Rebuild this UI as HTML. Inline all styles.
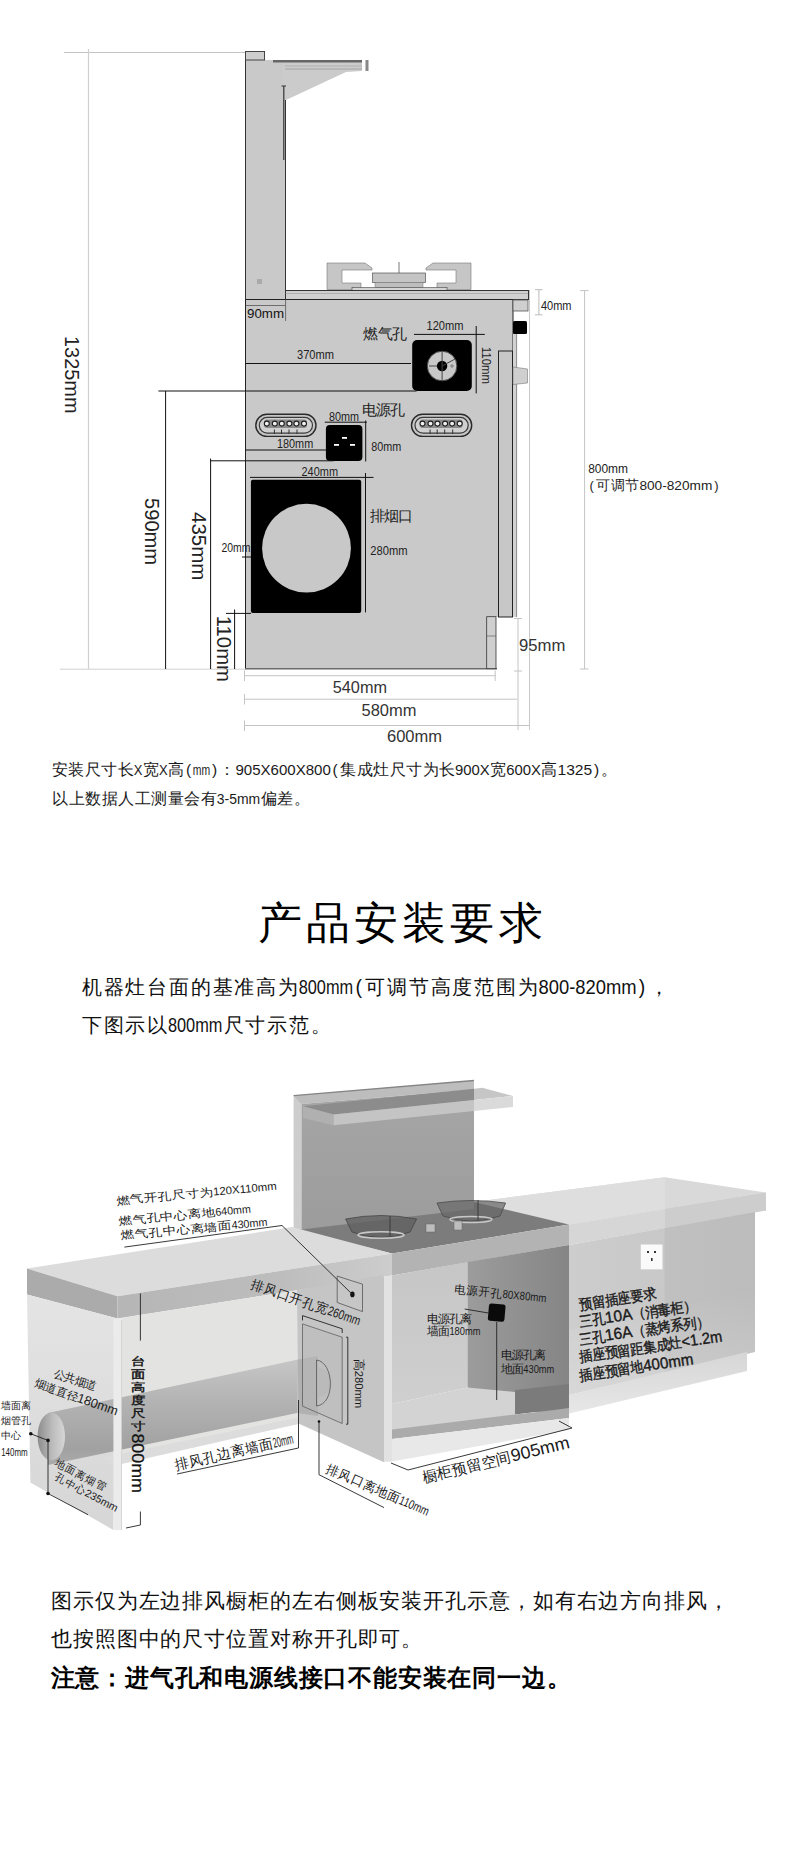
<!DOCTYPE html>
<html><head><meta charset="utf-8">
<style>
html,body{margin:0;padding:0;background:#fff;}
body{width:790px;height:1853px;position:relative;overflow:hidden;font-family:"Liberation Sans",sans-serif;}
svg{position:absolute;left:0;top:0;}
</style></head>
<body>
<svg id="top" width="790" height="760" viewBox="0 0 790 760" font-family="Liberation Sans, sans-serif">
  <!-- 1325 dimension -->
  <line x1="64" y1="52.5" x2="246" y2="52.5" stroke="#c4c4c4" stroke-width="1"/>
  <line x1="88.5" y1="49" x2="88.5" y2="669" stroke="#cfcfcf" stroke-width="1.2"/>
  <line x1="60" y1="669.2" x2="246" y2="669.2" stroke="#d0d0d0" stroke-width="1"/>
  <!-- column -->
  <rect x="245.5" y="60" width="39.5" height="240" fill="#c9c9c9"/>
  <line x1="245.5" y1="51" x2="245.5" y2="300" stroke="#333" stroke-width="1"/>
  <rect x="245.5" y="51.5" width="19" height="8.5" fill="#cdcdcd" stroke="#444" stroke-width="1"/>
  <line x1="285.5" y1="86" x2="285.5" y2="300" stroke="#333" stroke-width="1"/>
  <!-- shelf -->
  <polygon points="283,61 362,61 362,71 346,72 286,100 283,100" fill="#cbcbcb"/>
  <rect x="273" y="60" width="89" height="2.5" fill="#666"/>
  <line x1="285" y1="66" x2="362" y2="66" stroke="#aaa" stroke-width="0.8"/>
  <line x1="285" y1="69" x2="362" y2="69" stroke="#999" stroke-width="0.8"/>
  <rect x="365.5" y="60" width="3" height="11" fill="#888"/>
  <line x1="283.8" y1="86" x2="283.8" y2="160" stroke="#333" stroke-width="1.2"/>
  <line x1="281.5" y1="86" x2="286" y2="86" stroke="#333" stroke-width="1"/>
  <rect x="257" y="279" width="5" height="5" fill="#aaa"/>
  <!-- burner & supports -->
  <path d="M327,263 L365,263 L372,268 L372,270 L342,270 L342,283 L361,283 L361,289.5 L327,289.5 Z" fill="#c6c6c6" stroke="#777" stroke-width="0.6"/>
  <path d="M471,263 L433,263 L426,268 L426,270 L456,270 L456,283 L437,283 L437,289.5 L471,289.5 Z" fill="#c6c6c6" stroke="#777" stroke-width="0.6"/>
  <rect x="372.5" y="273" width="53" height="9.5" fill="#c4c4c4" stroke="#555" stroke-width="0.7"/>
  <rect x="375" y="282.5" width="48" height="5" fill="#bdbdbd" stroke="#777" stroke-width="0.5"/>
  <line x1="399" y1="262" x2="399" y2="273" stroke="#555" stroke-width="0.8"/>
  <rect x="352" y="287.5" width="95" height="3" fill="#d4d4d4" stroke="#444" stroke-width="0.6"/>
  <!-- countertop -->
  <rect x="285.5" y="290.5" width="243" height="9" fill="#cfcfcf" stroke="#333" stroke-width="1"/>
  <line x1="285.5" y1="293.5" x2="528" y2="293.5" stroke="#999" stroke-width="0.6"/>
  <!-- body -->
  <polygon points="245.5,299.5 513,299.5 513,617 496,617 496,669 245.5,669" fill="#c9c9c9"/>
  <polyline points="245.5,669 245.5,299.5 513,299.5 513,617" fill="none" stroke="#222" stroke-width="1"/>
  <line x1="245" y1="668.8" x2="497" y2="668.8" stroke="#6a6a6a" stroke-width="1.6"/>
  <line x1="245.5" y1="305.5" x2="285.5" y2="305.5" stroke="#555" stroke-width="0.8"/>
  <line x1="285.6" y1="299.5" x2="285.6" y2="321" stroke="#555" stroke-width="0.8"/>
  <text x="247" y="317.6" font-size="13" fill="#111" textLength="37" lengthAdjust="spacingAndGlyphs">90mm</text>
  <!-- right side fixtures -->
  <rect x="513" y="300" width="15" height="11" fill="#cfcfcf" stroke="#555" stroke-width="0.8"/>
  <rect x="513" y="321" width="14" height="13" rx="1.5" fill="#000"/>
  <rect x="498.5" y="351" width="14" height="266" fill="#c7c7c7" stroke="#222" stroke-width="1"/>
  <rect x="513" y="334" width="3.6" height="283" fill="#d2d2d2"/>
  <line x1="516.6" y1="334" x2="516.6" y2="617" stroke="#666" stroke-width="0.7"/>
  <polygon points="513,367 527.5,369 527.5,383 513,384.5" fill="#cfcfcf" stroke="#777" stroke-width="0.6"/>
  <line x1="529.5" y1="290" x2="529.5" y2="730" stroke="#c8c8c8" stroke-width="1"/>
  <rect x="486.7" y="616.7" width="9.3" height="52" fill="#cfcfcf" stroke="#333" stroke-width="0.8"/>
  <line x1="487" y1="636" x2="496" y2="636" stroke="#555" stroke-width="0.6"/>
  <!-- gas hole -->
  <rect x="412.2" y="340.1" width="59.6" height="50.9" rx="5" fill="#000"/>
  <circle cx="442.1" cy="366" r="14.8" fill="#c8c8c8" stroke="#444" stroke-width="1"/>
  <circle cx="442.1" cy="366" r="5.2" fill="#000"/>
  <line x1="442.1" y1="351.5" x2="442.1" y2="380.5" stroke="#444" stroke-width="1"/>
  <line x1="442.1" y1="366" x2="455" y2="359" stroke="#444" stroke-width="1"/>
  <line x1="429" y1="366" x2="437" y2="366" stroke="#444" stroke-width="1"/>
  <circle cx="452" cy="366" r="1.2" fill="none" stroke="#444" stroke-width="0.6"/>
  <line x1="245.5" y1="363.5" x2="411" y2="363.5" stroke="#111" stroke-width="1"/>
  <line x1="158.4" y1="391" x2="416.6" y2="391" stroke="#111" stroke-width="1"/>
  <line x1="414" y1="334.4" x2="484.8" y2="334.4" stroke="#111" stroke-width="1"/>
  <line x1="476.2" y1="326" x2="476.2" y2="393.4" stroke="#111" stroke-width="1"/>
  
  <text x="426.5" y="329.7" font-size="12.5" fill="#222" textLength="37" lengthAdjust="spacingAndGlyphs">120mm</text>
  <text x="297" y="358.5" font-size="12.5" fill="#222" textLength="37" lengthAdjust="spacingAndGlyphs">370mm</text>
  <text transform="translate(482,347) rotate(90)" font-size="12.5" fill="#222" textLength="37" lengthAdjust="spacingAndGlyphs">110mm</text>
  <!-- 40mm / 800mm -->
  <line x1="538.9" y1="289.7" x2="538.9" y2="314.8" stroke="#bbb" stroke-width="1"/>
  <line x1="535" y1="289.7" x2="542.5" y2="289.7" stroke="#bbb" stroke-width="1"/>
  <line x1="535" y1="314.8" x2="542.5" y2="314.8" stroke="#bbb" stroke-width="1"/>
  <text x="540.9" y="310" font-size="12.5" fill="#222" textLength="30.6" lengthAdjust="spacingAndGlyphs">40mm</text>
  <line x1="584.6" y1="290.6" x2="584.6" y2="669" stroke="#c4c4c4" stroke-width="1"/>
  <line x1="580" y1="290.6" x2="588.5" y2="290.6" stroke="#c4c4c4" stroke-width="1"/>
  <line x1="580" y1="669" x2="588.5" y2="669" stroke="#c4c4c4" stroke-width="1"/>
  <text x="588.2" y="473" font-size="12.5" fill="#222" textLength="39.8" lengthAdjust="spacingAndGlyphs">800mm</text>
  
  <!-- power holes -->
  <rect x="255.8" y="414.2" width="60.2" height="22.2" rx="11.1" fill="#c6c6c6" stroke="#2a2a2a" stroke-width="1.4"/>
  <rect x="259.3" y="417.4" width="53.2" height="15.8" rx="7.9" fill="#d0d0d0" stroke="#3a3a3a" stroke-width="1.2"/>
  <rect x="264.0" y="419.5" width="43" height="8.5" rx="3" fill="#8a8a8a"/>
  <circle cx="266.8" cy="423.6" r="2.5" fill="#f0f0f0" stroke="#1e1e1e" stroke-width="1.1"/>
  <circle cx="274.8" cy="423.6" r="2.5" fill="#f0f0f0" stroke="#1e1e1e" stroke-width="1.1"/>
  <circle cx="281.8" cy="423.6" r="2.5" fill="#f0f0f0" stroke="#1e1e1e" stroke-width="1.1"/>
  <circle cx="289.4" cy="423.6" r="2.5" fill="#f0f0f0" stroke="#1e1e1e" stroke-width="1.1"/>
  <circle cx="296.4" cy="423.6" r="2.5" fill="#f0f0f0" stroke="#1e1e1e" stroke-width="1.1"/>
  <circle cx="304.0" cy="423.6" r="2.5" fill="#f0f0f0" stroke="#1e1e1e" stroke-width="1.1"/>
  <line x1="274.4" y1="429.5" x2="274.4" y2="434" stroke="#333" stroke-width="1"/>
  <line x1="281.5" y1="429.5" x2="281.5" y2="434" stroke="#333" stroke-width="1"/>
  <line x1="289.0" y1="429.5" x2="289.0" y2="434" stroke="#333" stroke-width="1"/>
  <line x1="297.0" y1="429.5" x2="297.0" y2="434" stroke="#333" stroke-width="1"/>
  <rect x="411.5" y="414.2" width="60.2" height="22.2" rx="11.1" fill="#c6c6c6" stroke="#2a2a2a" stroke-width="1.4"/>
  <rect x="415.0" y="417.4" width="53.2" height="15.8" rx="7.9" fill="#d0d0d0" stroke="#3a3a3a" stroke-width="1.2"/>
  <rect x="419.7" y="419.5" width="43" height="8.5" rx="3" fill="#8a8a8a"/>
  <circle cx="422.5" cy="423.6" r="2.5" fill="#f0f0f0" stroke="#1e1e1e" stroke-width="1.1"/>
  <circle cx="430.5" cy="423.6" r="2.5" fill="#f0f0f0" stroke="#1e1e1e" stroke-width="1.1"/>
  <circle cx="437.5" cy="423.6" r="2.5" fill="#f0f0f0" stroke="#1e1e1e" stroke-width="1.1"/>
  <circle cx="445.1" cy="423.6" r="2.5" fill="#f0f0f0" stroke="#1e1e1e" stroke-width="1.1"/>
  <circle cx="452.1" cy="423.6" r="2.5" fill="#f0f0f0" stroke="#1e1e1e" stroke-width="1.1"/>
  <circle cx="459.7" cy="423.6" r="2.5" fill="#f0f0f0" stroke="#1e1e1e" stroke-width="1.1"/>
  <line x1="430.1" y1="429.5" x2="430.1" y2="434" stroke="#333" stroke-width="1"/>
  <line x1="437.2" y1="429.5" x2="437.2" y2="434" stroke="#333" stroke-width="1"/>
  <line x1="444.7" y1="429.5" x2="444.7" y2="434" stroke="#333" stroke-width="1"/>
  <line x1="452.7" y1="429.5" x2="452.7" y2="434" stroke="#333" stroke-width="1"/>
  <rect x="325.9" y="424.9" width="36.5" height="36.1" rx="4" fill="#000"/>
  <rect x="342" y="437" width="5" height="1.8" fill="#fff"/>
  <rect x="334" y="444" width="5" height="1.8" fill="#fff"/>
  <rect x="350" y="444" width="5" height="1.8" fill="#fff"/>
  <line x1="324.8" y1="422.2" x2="366.8" y2="422.2" stroke="#111" stroke-width="1"/>
  <line x1="365.7" y1="420.5" x2="365.7" y2="461.5" stroke="#111" stroke-width="1"/>
  <line x1="245.5" y1="450" x2="326.5" y2="450" stroke="#111" stroke-width="1"/>
  <line x1="210" y1="460.8" x2="333.6" y2="460.8" stroke="#111" stroke-width="1"/>
  <text x="329" y="420.5" font-size="12.5" fill="#222" textLength="30" lengthAdjust="spacingAndGlyphs">80mm</text>
  <text x="371.3" y="450.8" font-size="12.5" fill="#222" textLength="30" lengthAdjust="spacingAndGlyphs">80mm</text>
  
  <text x="277" y="447.7" font-size="12.5" fill="#222" textLength="36.2" lengthAdjust="spacingAndGlyphs">180mm</text>
  <!-- smoke outlet -->
  <rect x="250.9" y="479.8" width="110.3" height="133.3" rx="2" fill="#000"/>
  <circle cx="306.5" cy="548.2" r="44.4" fill="#c8c8c8"/>
  <line x1="250" y1="477.4" x2="373.5" y2="477.4" stroke="#111" stroke-width="1"/>
  <line x1="365.5" y1="473" x2="365.5" y2="612.4" stroke="#111" stroke-width="1"/>
  <text x="301.5" y="475.9" font-size="12.5" fill="#222" textLength="36.5" lengthAdjust="spacingAndGlyphs">240mm</text>
  
  <text x="370.3" y="555" font-size="12.5" fill="#222" textLength="37.2" lengthAdjust="spacingAndGlyphs">280mm</text>
  <text x="221.4" y="551.7" font-size="12" fill="#222" textLength="29" lengthAdjust="spacingAndGlyphs">20mm</text>
  <line x1="242" y1="557" x2="251" y2="557" stroke="#111" stroke-width="1"/>
  <!-- vertical dims -->
  <line x1="165.6" y1="391" x2="165.6" y2="669" stroke="#111" stroke-width="1"/>
  <line x1="210.6" y1="458.6" x2="210.6" y2="669" stroke="#111" stroke-width="1"/>
  <line x1="234.6" y1="609.5" x2="234.6" y2="669" stroke="#111" stroke-width="1"/>
  <line x1="226" y1="613.4" x2="251" y2="613.4" stroke="#111" stroke-width="1"/>
  <text transform="translate(65.3,336) rotate(90)" font-size="20" fill="#222" textLength="77.5" lengthAdjust="spacingAndGlyphs">1325mm</text>
  <text transform="translate(145.4,498.1) rotate(90)" font-size="20" fill="#222" textLength="67" lengthAdjust="spacingAndGlyphs">590mm</text>
  <text transform="translate(192.1,512) rotate(90)" font-size="20" fill="#222" textLength="68.3" lengthAdjust="spacingAndGlyphs">435mm</text>
  <text transform="translate(216.5,615.8) rotate(90)" font-size="20" fill="#222" textLength="66.2" lengthAdjust="spacingAndGlyphs">110mm</text>
  <!-- 95mm -->
  <line x1="518" y1="618.5" x2="518" y2="730" stroke="#c4c4c4" stroke-width="1"/>
  <line x1="514" y1="618.5" x2="522" y2="618.5" stroke="#c4c4c4" stroke-width="1"/>
  <line x1="514" y1="671" x2="522" y2="671" stroke="#c4c4c4" stroke-width="1"/>
  <text x="519" y="651.3" font-size="16" fill="#333" textLength="46.3" lengthAdjust="spacingAndGlyphs">95mm</text>
  <!-- bottom dims -->
  <g stroke="#c4c4c4" stroke-width="1">
    <line x1="244.5" y1="675.7" x2="495.7" y2="675.7"/>
    <line x1="244.5" y1="670.5" x2="244.5" y2="681"/>
    <line x1="495.2" y1="670.5" x2="495.2" y2="681"/>
    <line x1="244.5" y1="699.2" x2="517.3" y2="699.2"/>
    <line x1="244.5" y1="694" x2="244.5" y2="704.5"/>
    <line x1="244.5" y1="725.5" x2="529" y2="725.5"/>
    <line x1="244.5" y1="720.5" x2="244.5" y2="731"/>
  </g>
  <text x="332.8" y="693.4" font-size="16" fill="#333" textLength="54.2" lengthAdjust="spacingAndGlyphs">540mm</text>
  <text x="361.5" y="715.7" font-size="16" fill="#333" textLength="54.9" lengthAdjust="spacingAndGlyphs">580mm</text>
  <text x="387" y="741.6" font-size="16" fill="#333" textLength="55" lengthAdjust="spacingAndGlyphs">600mm</text>
</svg>
<svg id="illus" width="790" height="1853" viewBox="0 0 790 1853">
<defs>
  <linearGradient id="gLslab" x1="0" y1="0" x2="1" y2="0">
    <stop offset="0" stop-color="#b6b6b6"/><stop offset="0.6" stop-color="#bdbdbd"/><stop offset="1" stop-color="#cdcdcd"/>
  </linearGradient>
  <linearGradient id="gPlinth" x1="0" y1="0" x2="0" y2="1">
    <stop offset="0" stop-color="#d6d6d6"/><stop offset="1" stop-color="#e8e8e8"/>
  </linearGradient>
  <linearGradient id="gRfrontLow" x1="0" y1="0" x2="0" y2="1">
    <stop offset="0" stop-color="#fff" stop-opacity="0"/><stop offset="1" stop-color="#fff" stop-opacity="0.22"/>
  </linearGradient>
  <linearGradient id="gMback" x1="0" y1="0" x2="0" y2="1">
    <stop offset="0" stop-color="#c6c6c6"/><stop offset="1" stop-color="#cfcfcf"/>
  </linearGradient>
  <linearGradient id="gBack" x1="0" y1="0" x2="0" y2="1">
    <stop offset="0" stop-color="#a6a6a6"/><stop offset="1" stop-color="#9c9c9c"/>
  </linearGradient>
  <linearGradient id="gPipe" x1="0" y1="0" x2="0" y2="1">
    <stop offset="0" stop-color="#c6c6c6"/><stop offset="0.4" stop-color="#b3b3b3"/><stop offset="0.85" stop-color="#a1a1a1"/><stop offset="1" stop-color="#ababab"/>
  </linearGradient>
  <linearGradient id="gRside" x1="0" y1="0" x2="1" y2="0">
    <stop offset="0" stop-color="#9c9c9c"/><stop offset="1" stop-color="#858585"/>
  </linearGradient>
  <linearGradient id="gRfront" x1="0" y1="0" x2="1" y2="0">
    <stop offset="0" stop-color="#cdcdcd"/><stop offset="0.51" stop-color="#c8c8c8"/><stop offset="0.52" stop-color="#c0c0c0"/><stop offset="1" stop-color="#bcbcbc"/>
  </linearGradient>
  <linearGradient id="gLend" x1="0" y1="0" x2="0" y2="1">
    <stop offset="0" stop-color="#e4e4e4"/><stop offset="1" stop-color="#d6d6d6"/>
  </linearGradient>
  <linearGradient id="gHole" x1="0" y1="0" x2="1" y2="0">
    <stop offset="0" stop-color="#8c8c8c"/><stop offset="0.55" stop-color="#bdbdbd"/><stop offset="1" stop-color="#d6d6d6"/>
  </linearGradient>
</defs>

<!-- ===== right counter ===== -->
<polygon points="474,1202 665,1177.3 766,1192.5 569,1224.6" fill="#d9d9d9"/>
<polygon points="474,1202 665,1177.3 665,1208.7 569,1224.6" fill="#dedede"/>
<polygon points="569,1224.6 766,1192.5 766,1210.5 569,1245" fill="#d6d6d6"/>
<polygon points="665,1208.7 766,1192.5 766,1210.5 665,1228" fill="#cdcdcd"/>
<polygon points="569,1245 755,1212 755,1352 569,1395" fill="url(#gRfront)"/>
<polygon points="569,1330 755,1290 755,1352 569,1395" fill="url(#gRfrontLow)"/>
<polygon points="554.6,1394 569,1395 747,1352 747,1371 554.6,1417" fill="url(#gPlinth)"/>
<rect x="640.6" y="1244.2" width="22.2" height="25.4" fill="#fafafa" stroke="#d0d0d0" stroke-width="0.6"/>
<rect x="647" y="1251" width="2" height="2" fill="#333"/><rect x="654" y="1251" width="2" height="2" fill="#333"/><rect x="651" y="1258" width="1.6" height="3" fill="#333"/>

<!-- ===== backsplash ===== -->
<polygon points="293.6,1095.6 301.5,1099 301.5,1231 293.6,1231" fill="#cdcdcd"/>
<polygon points="293.6,1095.6 474,1080.5 474,1089.5 301.5,1104" fill="#bdbdbd"/>
<line x1="293.6" y1="1095.6" x2="474" y2="1080.5" stroke="#858585" stroke-width="1.4"/>
<polygon points="301.5,1104 474,1089.5 474,1210 301.5,1230" fill="url(#gBack)"/>
<!-- shelf -->
<polygon points="303,1106.3 474,1088.7 474,1100 333.6,1114.5" fill="#8c8c8c"/>
<polygon points="303,1106.3 333.6,1114.5 333.6,1125.2 303,1118" fill="#b0b0b0"/>
<polygon points="333.6,1114.5 474,1100 474,1111 333.6,1125.2" fill="#c4c4c4"/>
<polygon points="474,1088.7 482.4,1087.8 513,1096 474,1100" fill="#c6c6c6"/>
<polygon points="474,1100 513,1096 513,1107 474,1111" fill="#dadada"/>

<!-- ===== cooktop ===== -->
<polygon points="297,1230 474,1209 474,1202 569,1224.6 392,1253.5" fill="#7c7c7c"/>
<polygon points="392,1253.5 569,1224.6 569,1245 392,1275.5" fill="#b3b3b3"/>
<!-- burners -->
<g>
  <path d="M345.6,1219 Q381,1212 416.6,1219 L410,1232 Q381,1243 352,1232 Z" fill="#5f5f5f" fill-opacity="0.75" stroke="#444" stroke-width="0.8"/>
  <ellipse cx="381" cy="1235" rx="23" ry="3.2" fill="none" stroke="#c8c8c8" stroke-width="1.4"/>
  <path d="M437,1203 Q471,1198 505.6,1203 L500,1216 Q471,1226 443,1216 Z" fill="#666" fill-opacity="0.7" stroke="#4a4a4a" stroke-width="0.8"/>
  <ellipse cx="471" cy="1219.5" rx="21" ry="3" fill="none" stroke="#c8c8c8" stroke-width="1.4"/>
  <line x1="390" y1="1216" x2="390" y2="1236" stroke="#3a3a3a" stroke-width="1"/>
  <line x1="478" y1="1200" x2="478" y2="1220" stroke="#3a3a3a" stroke-width="1"/>
  <rect x="426" y="1224" width="9" height="8" fill="#bdbdbd" stroke="#666" stroke-width="0.5"/>
  <rect x="454" y="1221" width="8" height="9" fill="#bdbdbd" stroke="#666" stroke-width="0.5"/>
</g>

<!-- ===== left counter ===== -->
<polygon points="27,1268.6 292,1227 392,1253.5 117.5,1296.2" fill="#dcdcdc"/>
<polygon points="27,1268.6 117.5,1296.2 117.5,1318.5 27,1294.4" fill="#ababab"/>
<polygon points="117.5,1296.2 392,1253.5 392,1275.5 117.5,1318.5" fill="url(#gLslab)"/>
<!-- left end face -->
<polygon points="27,1294.4 117.5,1318.5 113.4,1530 30.4,1482.4" fill="url(#gLend)"/>
<!-- interior back wall -->
<polygon points="121.5,1318 298.5,1290 298.5,1421.5 121.5,1462" fill="#e3e3e1"/>
<!-- white floor under -->

<!-- pipe -->
<polygon points="48,1413 297,1359.7 297,1413 48,1465" fill="url(#gPipe)"/>
<ellipse cx="51.3" cy="1436.5" rx="13.7" ry="23.9" fill="url(#gHole)"/>
<polygon points="100,1458 298.5,1417.5 298.5,1424 121.5,1464" fill="#dcdcdc"/>
<!-- front posts -->
<polygon points="113.4,1318.5 121.5,1318 121.5,1530 113.4,1530" fill="#ebebeb"/>
<line x1="121.5" y1="1320" x2="121.5" y2="1530" stroke="#cfcfcf" stroke-width="0.8"/>
<!-- right side panel of left cabinet -->
<polygon points="297,1290 383.5,1275 383.5,1462 298.5,1423.5" fill="#c5c5c5"/>
<polygon points="297,1359.7 318,1356 318,1416 297,1413" fill="#9a9a9a" opacity="0.45"/>
<circle cx="316.5" cy="1382.4" r="15" fill="#b0b0b0" opacity="0.5"/>
<polygon points="383.5,1276.5 392,1275.5 392,1461.4 383.5,1462" fill="#e2e2e2"/>
<line x1="383.5" y1="1277" x2="383.5" y2="1462" stroke="#bdbdbd" stroke-width="0.8"/>

<!-- ===== middle cabinet interior ===== -->
<polygon points="392,1275.5 467.5,1262 467.5,1387.6 392,1404" fill="url(#gMback)"/>
<polygon points="467.5,1262 569,1245 569,1418 555,1418 467.5,1387.6" fill="url(#gRside)"/>
<polygon points="392,1404 467.5,1387.6 515,1392 515,1415 392,1430" fill="#d3d3d3"/>
<polygon points="515,1390 569,1384 569,1408 515,1414.5" fill="#7b7b7b"/>
<polygon points="392,1429.5 515,1414.5 555,1410 569,1408 569,1418 392,1439" fill="#ababab"/>
<polygon points="392,1439 569,1418 569,1430 392,1461.4" fill="#e8e8e8"/>

<!-- vent on side panel -->
<polygon points="302.5,1323.9 342.2,1337.2 342.2,1423.5 302.5,1406.1" fill="#bababa" fill-opacity="0.5" stroke="#5f5f5f" stroke-width="0.8"/>
<path d="M316.5,1360 C334,1362 336,1404 316.5,1406 Z" fill="none" stroke="#555" stroke-width="0.8"/>
<!-- gas hole square -->
<polygon points="337.2,1276.1 362.5,1284.2 362.5,1311.6 337.2,1302.5" fill="#c6c6c6" stroke="#555" stroke-width="0.8"/>
<ellipse cx="352.4" cy="1294.4" rx="2.2" ry="2.8" fill="#111"/>
<!-- power hole -->
<rect x="488.4" y="1304" width="16.6" height="17.3" rx="2.5" fill="#0a0a0a" transform="rotate(5 496.7 1312.6)"/>

<!-- ===== leader lines ===== -->
<g stroke="#222" stroke-width="0.9" fill="none">
  <polyline points="124.4,1247.1 282,1225.5 352.4,1294.4"/>
  <polyline points="302.5,1320.4 302.5,1315.6 342.2,1328.8 342.2,1333"/>
  <polyline points="346,1337.2 347.8,1337.2 347.8,1424.2 346,1424.2"/>
  <polyline points="177,1474 298.5,1448 298.5,1400"/>
  <polyline points="384,1507.6 319,1474.7 319,1421.5"/>
  <polyline points="464.7,1309 488.4,1313"/>
  <polyline points="496.7,1322 496.7,1400"/>
  <polyline points="391,1463 408,1470 572,1428 559,1421"/>
  <polyline points="30.8,1433.8 48,1440.4 48,1493.5 88,1514.7"/>
  <polyline points="140.4,1293.4 140.4,1340.6"/>
  <polyline points="140.4,1511.5 140.4,1525 126,1528"/>
</g>
<circle cx="30.8" cy="1433.8" r="1.8" fill="#111"/>
<circle cx="48" cy="1440.4" r="1.8" fill="#111"/>
<circle cx="48" cy="1493.5" r="1.8" fill="#111"/>
<circle cx="319" cy="1421.5" r="1.3" fill="#111"/>
</svg>

<svg id="txt" width="790" height="1853" viewBox="0 0 790 1853" font-family="Liberation Sans, sans-serif">
<text x="51.80 68.30 84.80 101.30 117.80" y="775" font-size="15.5" fill="#1a1a1a">安装尺寸长</text>
<text x="133.80" y="775" font-size="15.5" fill="#1a1a1a" textLength="8.68" lengthAdjust="spacingAndGlyphs">X</text>
<text x="142.98" y="775" font-size="15.5" fill="#1a1a1a">宽</text>
<text x="158.98" y="775" font-size="15.5" fill="#1a1a1a" textLength="8.68" lengthAdjust="spacingAndGlyphs">X</text>
<text x="168.16" y="775" font-size="15.5" fill="#1a1a1a">高</text>
<text x="185.92" y="775" font-size="15.5" fill="#1a1a1a">(</text>
<text x="192.84" y="775" font-size="15.5" fill="#1a1a1a" textLength="17.36" lengthAdjust="spacingAndGlyphs">mm</text>
<text x="211.96" y="775" font-size="15.5" fill="#1a1a1a">)</text>
<text x="219.38" y="775" font-size="15.5" fill="#1a1a1a">：</text>
<text x="235.38" y="775" font-size="15.5" fill="#1a1a1a" textLength="95.48" lengthAdjust="spacingAndGlyphs">905X600X800</text>
<text x="332.62" y="775" font-size="15.5" fill="#1a1a1a">(</text>
<text x="340.04 356.54 373.04 389.54 406.04 422.54 439.04" y="775" font-size="15.5" fill="#1a1a1a">集成灶尺寸为长</text>
<text x="455.04" y="775" font-size="15.5" fill="#1a1a1a" textLength="34.72" lengthAdjust="spacingAndGlyphs">900X</text>
<text x="490.26" y="775" font-size="15.5" fill="#1a1a1a">宽</text>
<text x="506.26" y="775" font-size="15.5" fill="#1a1a1a" textLength="34.72" lengthAdjust="spacingAndGlyphs">600X</text>
<text x="541.48" y="775" font-size="15.5" fill="#1a1a1a">高</text>
<text x="557.48" y="775" font-size="15.5" fill="#1a1a1a" textLength="34.72" lengthAdjust="spacingAndGlyphs">1325</text>
<text x="593.96" y="775" font-size="15.5" fill="#1a1a1a">)</text>
<text x="601.38" y="775" font-size="15.5" fill="#1a1a1a">。</text>
<text x="52.30 68.80 85.30 101.80 118.30 134.80 151.30 167.80 184.30 200.80" y="803.5" font-size="15.5" fill="#1a1a1a">以上数据人工测量会有</text>
<text x="216.80" y="803.5" font-size="15.5" fill="#1a1a1a" textLength="43.40" lengthAdjust="spacingAndGlyphs">3-5mm</text>
<text x="260.70 277.20 293.70" y="803.5" font-size="15.5" fill="#1a1a1a">偏差。</text>
<text x="257.60 305.80 354.00 402.20 450.40 498.60" y="938" font-size="44" fill="#000">产品安装要求</text>
<text x="81.85 103.65 125.45 147.25 169.05 190.85 212.65 234.45 256.25 278.05" y="993.7" font-size="19.5" fill="#111">机器灶台面的基准高为</text>
<text x="298.70" y="993.7" font-size="19.5" fill="#111" textLength="54.50" lengthAdjust="spacingAndGlyphs">800mm</text>
<text x="355.40" y="993.7" font-size="19.5" fill="#111">(</text>
<text x="365.25 387.05 408.85 430.65 452.45 474.25 496.05 517.85" y="993.7" font-size="19.5" fill="#111">可调节高度范围为</text>
<text x="538.50" y="993.7" font-size="19.5" fill="#111" textLength="98.10" lengthAdjust="spacingAndGlyphs">800-820mm</text>
<text x="638.80" y="993.7" font-size="19.5" fill="#111">)</text>
<text x="648.65" y="993.7" font-size="19.5" fill="#111">，</text>
<text x="81.85 103.65 125.45 147.25" y="1031.5" font-size="19.5" fill="#111">下图示以</text>
<text x="167.90" y="1031.5" font-size="19.5" fill="#111" textLength="54.50" lengthAdjust="spacingAndGlyphs">800mm</text>
<text x="223.55 245.35 267.15 288.95 310.75" y="1031.5" font-size="19.5" fill="#111">尺寸示范。</text>
<text x="50.90 72.80 94.70 116.60 138.50 160.40 182.30 204.20 226.10 248.00 269.90 291.80 313.70 335.60 357.50 379.40 401.30 423.20 445.10 467.00 488.90 510.80 532.70 554.60 576.50 598.40 620.30 642.20 664.10 686.00 707.90" y="1607.5" font-size="21.3" fill="#111">图示仅为左边排风橱柜的左右侧板安装开孔示意，如有右边方向排风，</text>
<text x="50.90 72.80 94.70 116.60 138.50 160.40 182.30 204.20 226.10 248.00 269.90 291.80 313.70 335.60 357.50 379.40 401.30" y="1646" font-size="21.3" fill="#111">也按照图中的尺寸位置对称开孔即可。</text>
<text x="50.65 75.45 100.25 125.05 149.85 174.65 199.45 224.25 249.05 273.85 298.65 323.45 348.25 373.05 397.85 422.65 447.45 472.25 497.05 521.85 546.65" y="1686" font-size="23.5" fill="#000" font-weight="bold">注意：进气孔和电源线接口不能安装在同一边。</text>
<text x="363.25 377.65 392.05" y="338.5" font-size="14.5" fill="#222">燃气孔</text>
<text x="361.65 376.05 390.45" y="414.8" font-size="14.5" fill="#222">电源孔</text>
<text x="369.55 383.95 398.35" y="521.2" font-size="14.5" fill="#222">排烟口</text>
<text x="589.39" y="490" font-size="13" fill="#222">(</text>
<text x="595.90 610.50 625.10" y="490" font-size="14" fill="#222">可调节</text>
<text x="639.40" y="490" font-size="13" fill="#222" textLength="72.90" lengthAdjust="spacingAndGlyphs">800-820mm</text>
<text x="714.19" y="490" font-size="13" fill="#222">)</text>
<g transform="translate(116.5,1204.6) rotate(-5.3) scale(1,0.82)">
<text x="0.15 14.05 27.95 41.85 55.75 69.65 83.55" y="0" font-size="13.6" fill="#1a1a1a">燃气开孔尺寸为</text>
<text x="97.30" y="0" font-size="13.6" fill="#1a1a1a" textLength="63.90" lengthAdjust="spacingAndGlyphs">120X110mm</text>
</g>
<g transform="translate(118.8,1224.9) rotate(-5.3) scale(1,0.82)">
<text x="0.15 14.05 27.95 41.85 55.75 69.65 83.55" y="0" font-size="13.6" fill="#1a1a1a">燃气孔中心离地</text>
<text x="97.30" y="0" font-size="13.6" fill="#1a1a1a" textLength="35.50" lengthAdjust="spacingAndGlyphs">640mm</text>
</g>
<g transform="translate(121.2,1239.3) rotate(-5.3) scale(1,0.82)">
<text x="0.15 14.05 27.95 41.85 55.75 69.65 83.55 97.45" y="0" font-size="13.6" fill="#1a1a1a">燃气孔中心离墙面</text>
<text x="111.20" y="0" font-size="13.6" fill="#1a1a1a" textLength="36.00" lengthAdjust="spacingAndGlyphs">430mm</text>
</g>
<g transform="translate(249.5,1287.8) rotate(19)">
<text x="0.30 13.90 27.50 41.10 54.70 68.30" y="0" font-size="13" fill="#1a1a1a">排风口开孔宽</text>
<text x="81.60" y="0" font-size="13" fill="#1a1a1a" textLength="34.00" lengthAdjust="spacingAndGlyphs">260mm</text>
</g>
<g transform="translate(354.9,1358.7) rotate(90)">
<text x="0.25" y="0" font-size="11.5" fill="#1a1a1a">高</text>
<text x="12.00" y="0" font-size="11.5" fill="#1a1a1a" textLength="37.50" lengthAdjust="spacingAndGlyphs">280mm</text>
</g>
<g transform="translate(176.3,1470) rotate(-12.8)">
<text x="0.15 14.45 28.75 43.05 57.35 71.65 85.95" y="0" font-size="14" fill="#1a1a1a">排风孔边离墙面</text>
<text x="100.10" y="0" font-size="14" fill="#1a1a1a" textLength="20.80" lengthAdjust="spacingAndGlyphs">20mm</text>
</g>
<g transform="translate(325,1471.5) rotate(23.6)">
<text x="0.25 13.55 26.85 40.15 53.45 66.75" y="0" font-size="12.8" fill="#1a1a1a">排风口离地面</text>
<text x="79.80" y="0" font-size="12.8" fill="#1a1a1a" textLength="31.50" lengthAdjust="spacingAndGlyphs">110mm</text>
</g>
<g transform="translate(423.5,1483) rotate(-13.5)">
<text x="0.10 15.30 30.50 45.70 60.90 76.10" y="0" font-size="15" fill="#1a1a1a">橱柜预留空间</text>
<text x="91.20" y="0" font-size="17.5" fill="#1a1a1a" textLength="60.00" lengthAdjust="spacingAndGlyphs">905mm</text>
</g>
<g transform="translate(453.6,1293) rotate(5.7)">
<text x="0.35 12.55 24.75 36.95" y="0" font-size="11.5" fill="#1a1a1a">电源开孔</text>
<text x="48.80" y="0" font-size="11.5" fill="#1a1a1a" textLength="44.10" lengthAdjust="spacingAndGlyphs">80X80mm</text>
</g>
<text x="426.85 438.05 449.25 460.45" y="1322.5" font-size="11.5" fill="#1a1a1a">电源孔离</text>
<text x="426.85 438.05" y="1335" font-size="11.5" fill="#1a1a1a">墙面</text>
<text x="449.40" y="1335" font-size="11.5" fill="#1a1a1a" textLength="31.00" lengthAdjust="spacingAndGlyphs">180mm</text>
<text x="500.75 511.95 523.15 534.35" y="1358.5" font-size="11.5" fill="#1a1a1a">电源孔离</text>
<text x="500.75 511.95" y="1372.5" font-size="11.5" fill="#1a1a1a">地面</text>
<text x="523.30" y="1372.5" font-size="11.5" fill="#1a1a1a" textLength="31.00" lengthAdjust="spacingAndGlyphs">430mm</text>
<g transform="translate(580.2,1309.5) rotate(-8.2) scale(1,1.1)">
<text x="-0.20 12.70 25.60 38.50 51.40 64.30" y="0" font-size="13.3" fill="#1a1a1a" stroke="#1a1a1a" stroke-width="0.35">预留插座要求</text>
</g>
<g transform="translate(580.2,1327) rotate(-8.2) scale(1,1.1)">
<text x="-0.20 12.70" y="0" font-size="13.3" fill="#1a1a1a" stroke="#1a1a1a" stroke-width="0.35">三孔</text>
<text x="25.80" y="0" font-size="14.5" fill="#1a1a1a" stroke="#1a1a1a" stroke-width="0.35" textLength="27.60" lengthAdjust="spacingAndGlyphs">10A</text>
<text x="53.20 66.10 79.00 91.90 104.80" y="0" font-size="13.3" fill="#1a1a1a" stroke="#1a1a1a" stroke-width="0.35">（消毒柜）</text>
</g>
<g transform="translate(580.2,1344.5) rotate(-8.2) scale(1,1.1)">
<text x="-0.20 12.70" y="0" font-size="13.3" fill="#1a1a1a" stroke="#1a1a1a" stroke-width="0.35">三孔</text>
<text x="25.80" y="0" font-size="14.5" fill="#1a1a1a" stroke="#1a1a1a" stroke-width="0.35" textLength="27.60" lengthAdjust="spacingAndGlyphs">16A</text>
<text x="53.20 66.10 79.00 91.90 104.80 117.70" y="0" font-size="13.3" fill="#1a1a1a" stroke="#1a1a1a" stroke-width="0.35">（蒸烤系列）</text>
</g>
<g transform="translate(580.2,1362) rotate(-8.2) scale(1,1.1)">
<text x="-0.20 12.70 25.60 38.50 51.40 64.30 77.20 90.10" y="0" font-size="13.3" fill="#1a1a1a" stroke="#1a1a1a" stroke-width="0.35">插座预留距集成灶</text>
<text x="103.20" y="0" font-size="14.5" fill="#1a1a1a" stroke="#1a1a1a" stroke-width="0.35" textLength="41.00" lengthAdjust="spacingAndGlyphs">&lt;1.2m</text>
</g>
<g transform="translate(580.2,1380.5) rotate(-8.2) scale(1,1.1)">
<text x="-0.20 12.70 25.60 38.50 51.40" y="0" font-size="13.3" fill="#1a1a1a" stroke="#1a1a1a" stroke-width="0.35">插座预留地</text>
<text x="64.50" y="0" font-size="14.5" fill="#1a1a1a" stroke="#1a1a1a" stroke-width="0.35" textLength="50.50" lengthAdjust="spacingAndGlyphs">400mm</text>
</g>
<g transform="translate(53,1377) rotate(17.5)">
<text x="-0.25 10.75 21.75 32.75" y="0" font-size="11.5" fill="#1a1a1a">公共烟道</text>
</g>
<g transform="translate(34,1386.5) rotate(19.5)">
<text x="-0.15 11.05 22.25 33.45" y="0" font-size="11.5" fill="#1a1a1a">烟道直径</text>
<text x="44.80" y="0" font-size="13" fill="#1a1a1a" textLength="42.50" lengthAdjust="spacingAndGlyphs">180mm</text>
</g>
<text x="1.35 11.15 20.95" y="1408.5" font-size="9.5" fill="#1a1a1a">墙面离</text>
<text x="1.35 11.15 20.95" y="1424" font-size="9.5" fill="#1a1a1a">烟管孔</text>
<text x="1.35 11.15" y="1438.5" font-size="9.5" fill="#1a1a1a">中心</text>
<text x="1.20" y="1455.5" font-size="11" fill="#1a1a1a" textLength="26.50" lengthAdjust="spacingAndGlyphs">140mm</text>
<g transform="translate(53.5,1464.5) rotate(28)">
<text x="0.50 12.00 23.50 35.00 46.50" y="0" font-size="10.5" fill="#1a1a1a">地面离烟管</text>
</g>
<g transform="translate(53.5,1479) rotate(28)">
<text x="0.50 12.00 23.50" y="0" font-size="10.5" fill="#1a1a1a">孔中心</text>
<text x="34.50" y="0" font-size="10.5" fill="#1a1a1a" textLength="36.00" lengthAdjust="spacingAndGlyphs">235mm</text>
</g>
<g transform="translate(131.4,1365.30) scale(1.1,0.84)"><text x="0" y="0" font-size="13.5" fill="#111" stroke="#111" stroke-width="0.45">台</text></g>
<g transform="translate(131.4,1378.33) scale(1.1,0.84)"><text x="0" y="0" font-size="13.5" fill="#111" stroke="#111" stroke-width="0.45">面</text></g>
<g transform="translate(131.4,1391.36) scale(1.1,0.84)"><text x="0" y="0" font-size="13.5" fill="#111" stroke="#111" stroke-width="0.45">高</text></g>
<g transform="translate(131.4,1404.39) scale(1.1,0.84)"><text x="0" y="0" font-size="13.5" fill="#111" stroke="#111" stroke-width="0.45">度</text></g>
<g transform="translate(131.4,1417.42) scale(1.1,0.84)"><text x="0" y="0" font-size="13.5" fill="#111" stroke="#111" stroke-width="0.45">尺</text></g>
<g transform="translate(131.4,1430.45) scale(1.1,0.84)"><text x="0" y="0" font-size="13.5" fill="#111" stroke="#111" stroke-width="0.45">寸</text></g>
<g transform="translate(132.3,1433.4) rotate(90)">
<text x="0" y="0" font-size="17" fill="#111" stroke="#111" stroke-width="0.25" textLength="59.5" lengthAdjust="spacingAndGlyphs">800mm</text>
</g>
</svg>
</body></html>
